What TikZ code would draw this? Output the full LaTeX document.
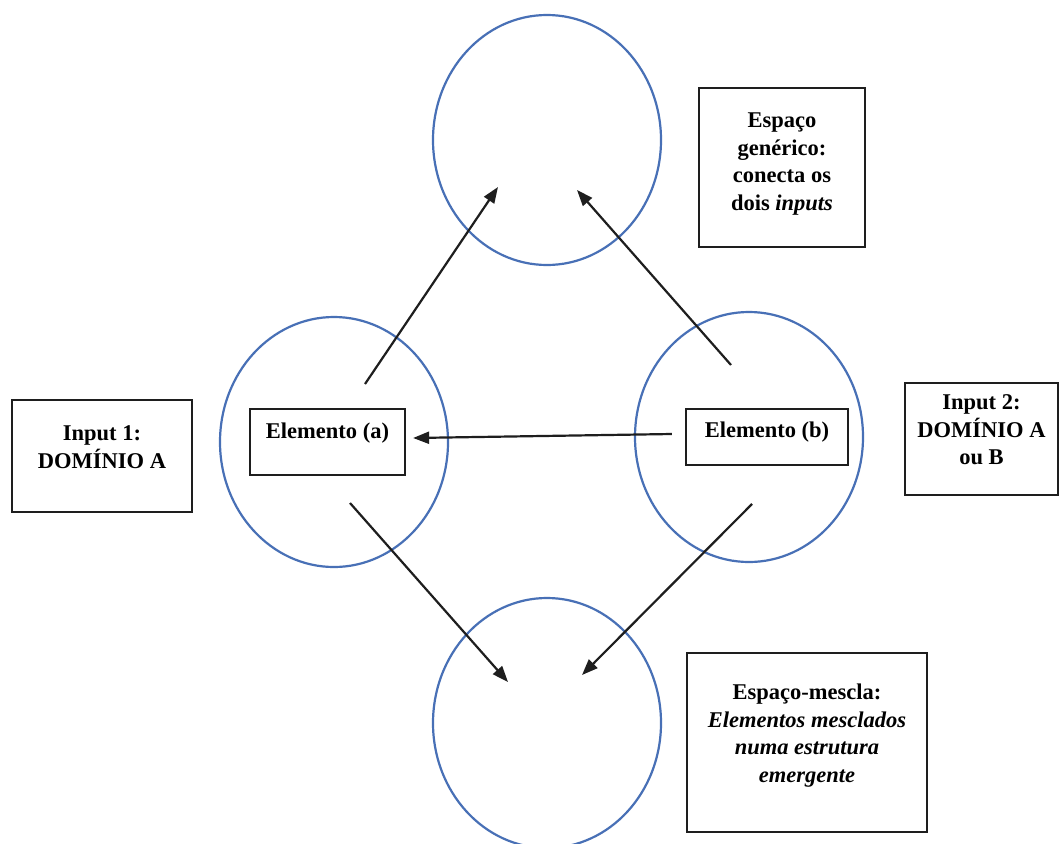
\documentclass[tikz,border=0pt]{standalone}
\usepackage{fontspec}
\setmainfont{Liberation Serif}
\usetikzlibrary{shapes.geometric,arrows.meta}
\definecolor{ringblue}{RGB}{72,112,182}
\definecolor{ink}{RGB}{30,30,30}
% top-aligned, centred text block of fixed size: width, height, top gap, text
\newcommand\boxtext[4]{\parbox[c][#2][t]{#1}{\centering\vspace*{#3}#4}}
\begin{document}
\begin{tikzpicture}[x=1pt,y=-1pt,
  space/.style={ellipse, draw=ringblue, line width=2.2pt,
    minimum width=228pt, minimum height=250pt, inner sep=0pt},
  frame/.style={draw=ink, line width=2.2pt, inner sep=0pt,
    font=\bfseries\fontsize{22.5}{27.5}\selectfont},
  link/.style={draw=ink, line width=2.2pt, -{Triangle[length=16pt,width=12pt]}}
]
\useasboundingbox (0,0) rectangle (1059,843);
\clip (0,0) rectangle (1059,843);
\fill[white] (0,0) rectangle (1059,843);

% mental spaces
\node[space] (gen) at (547,140) {};
\node[space] (in1) at (334,442) {};
\node[space] (in2) at (749,437) {};
\node[space] (mix) at (547,723) {};

% elements inside the input spaces
\node[frame] (ela) at (327.5,442) {\boxtext{155pt}{66pt}{14pt}{Elemento (a)}};
\node[frame] (elb) at (767,437) {\boxtext{162pt}{56pt}{13pt}{Elemento (b)}};

% captions
\node[frame] (genlbl) at (782,167.5) {\boxtext{166pt}{159pt}{25pt}{Espaço\\genérico:\\conecta os\\dois \textit{inputs}}};
\node[frame] (in1lbl) at (102,456) {\boxtext{180pt}{112pt}{26pt}{Input 1:\\DOMÍNIO A}};
\node[frame] (in2lbl) at (981.5,439) {\boxtext{153pt}{112pt}{12pt}{Input 2:\\DOMÍNIO A\\ou B}};
\node[frame] (mixlbl) at (807,742.5) {\boxtext{240pt}{179pt}{31pt}{Espaço-mescla:\\\textit{Elementos mesclados}\\\textit{numa estrutura}\\\textit{emergente}}};

% arrow end points
\coordinate (in1-up)   at (365,384);
\coordinate (in1-down) at (350,503);
\coordinate (in2-up)   at (731,365);
\coordinate (in2-down) at (752,504);
\coordinate (gen-l)    at (498,187);
\coordinate (gen-r)    at (577,190);
\coordinate (mix-l)    at (508,682);
\coordinate (mix-r)    at (582,675);

% projections
\draw[link] (in1-up) -- (gen-l);
\draw[link] (in2-up) -- (gen-r);
\draw[link] (in1-down) -- (mix-l);
\draw[link] (in2-down) -- (mix-r);
\draw[link] ([xshift=-13pt,yshift=3pt]elb.west) -- ([xshift=7pt,yshift=4pt]ela.east);
\end{tikzpicture}
\end{document}
